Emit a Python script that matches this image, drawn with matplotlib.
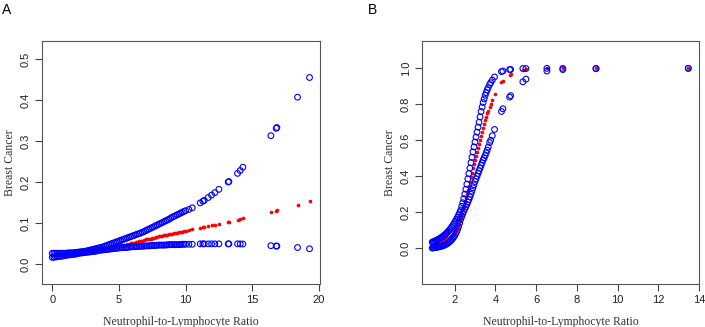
import matplotlib
matplotlib.use("Agg")
import matplotlib.pyplot as plt

# ---- panel A: NLR vs breast cancer (fit + CI) ----
nlr_a = [0, .25, .5, .75, 1, 1.25, 1.5, 1.75, 2, 2.25, 2.5, 2.75, 3, 3.25, 3.5,
         3.75, 4, 4.25, 4.5, 4.75, 5, 5.25, 5.5, 5.75, 6, 6.25, 6.5, 6.75, 7,
         7.25, 7.5, 7.75, 8, 8.25, 8.5, 8.75, 9, 9.25, 9.5, 9.75, 10, 10.25, 10.5,
         11.1, 11.3, 11.4, 11.7, 11.95, 12.2, 12.5,
         13.2, 13.25, 13.9, 14.1, 14.3, 16.4, 16.8, 16.85, 18.4, 19.3]
upper_a = [.027, .027, .027, .027, .027, .028, .028, .029, .030, .031, .032, .034, .036, .038, .040,
           .042, .045, .048, .051, .054, .057, .060, .063, .066, .069, .072, .075, .078, .082,
           .086, .090, .094, .098, .102, .106, .110, .115, .119, .123, .127, .131, .134, .138,
           .150, .154, .156, .163, .169, .175, .183,
           .201, .202, .222, .229, .237, .314, .332, .334, .408, .456]
fit_a = [.022, .023, .023, .024, .025, .025, .026, .027, .028, .029, .030, .032, .033, .034, .036,
         .037, .039, .040, .042, .043, .045, .047, .048, .050, .052, .054, .056, .058, .061,
         .062, .064, .066, .068, .070, .071, .073, .075, .077, .078, .080, .082, .084, .086,
         .089, .090, .091, .093, .095, .096, .098,
         .103, .104, .109, .110, .112, .128, .131, .132, .146, .154]
lower_a = [.017, .018, .019, .020, .022, .023, .024, .025, .027, .028, .029, .030, .031, .032, .034,
           .035, .036, .037, .038, .039, .040, .041, .041, .042, .043, .043, .044, .044, .045,
           .045, .046, .046, .047, .047, .047, .048, .048, .048, .048, .049, .049, .049, .049,
           .050, .050, .050, .050, .050, .050, .050,
           .050, .050, .050, .0498, .0495, .0455, .0447, .0445, .041, .038]
# extra patients in the dense part (NLR < 10)
nlr_a2 = [.125, .375, .625, .875, 1.125, 1.375, 1.625, 1.875, 2.125, 2.375,
          2.625, 2.875, 3.125, 3.375, 3.625, 3.875, 4.125, 4.375, 4.625, 4.875,
          5.125, 5.375, 5.625, 5.875, 6.125, 6.375, 6.625, 6.875, 7.125, 7.375,
          7.625, 7.875, 8.125, 8.375, 8.625, 8.875, 9.125, 9.375, 9.625, 9.875]
upper_a2 = [.027, .027, .027, .027, .0275, .028, .0285, .0295, .0305, .0315,
            .033, .035, .037, .039, .041, .0435, .0465, .0495, .0525, .0555,
            .0585, .0615, .0645, .0675, .0705, .0735, .0765, .080, .084, .088,
            .092, .096, .100, .104, .108, .1125, .117, .121, .125, .129]
fit_a2 = [.022, .023, .0235, .0245, .025, .0255, .0265, .0275, .0285, .0295,
          .031, .0325, .0335, .035, .0365, .038, .0395, .041, .0425, .044,
          .046, .0475, .049, .051, .053, .055, .057, .0595, .0615, .063,
          .065, .067, .069, .0705, .072, .074, .076, .0775, .079, .081]
lower_a2 = [.0175, .0185, .0195, .021, .0225, .0235, .0245, .026, .0275, .0285,
            .0295, .0305, .0315, .033, .0345, .0355, .0365, .0375, .0385, .0395,
            .0405, .041, .0415, .0425, .043, .0435, .044, .0445, .045, .0455,
            .046, .0465, .047, .047, .0475, .048, .048, .048, .0485, .049]

# ---- panel B ----
nlr_b = [0.9, 1.0, 1.1, 1.2, 1.3, 1.4, 1.5, 1.6, 1.7, 1.8, 1.9, 2.0, 2.1, 2.2, 2.3,
         2.35, 2.4, 2.45, 2.5, 2.55, 2.6, 2.65, 2.7, 2.75, 2.8, 2.85, 2.9, 2.95, 3.0,
         3.05, 3.1, 3.15, 3.2, 3.25, 3.3, 3.35, 3.4, 3.45, 3.5, 3.55, 3.6, 3.65, 3.72,
         3.77, 3.85, 3.96, 4.3, 4.37, 4.7, 4.75, 5.35, 5.5, 6.53, 7.31, 8.94, 13.47]
upper_b = [.033, .037, .042, .048, .055, .063, .072, .082, .094, .108, .124, .142, .162, .185, .212,
           .232, .252, .275, .300, .327, .355, .385, .415, .445, .475, .505, .535, .563, .590,
           .618, .645, .673, .700, .730, .760, .785, .810, .830, .850, .865, .880, .893, .910,
           .920, .935, .952, .982, .985, .993, .994, .999, .999, 1.0, 1.0, 1.0, 1.0]
fit_b = [.016, .019, .022, .026, .030, .035, .041, .048, .056, .066, .078, .092, .110, .135, .170,
         .192, .213, .234, .255, .277, .300, .322, .345, .370, .395, .420, .445, .468, .490,
         .512, .535, .558, .580, .602, .625, .648, .670, .690, .710, .730, .750, .765, .787,
         .800, .825, .857, .925, .932, .965, .968, .993, .995, .9995, 1.0, 1.0, 1.0]
lower_b = [.000, .002, .004, .006, .009, .012, .016, .022, .030, .040, .052, .068, .090, .120, .160,
           .175, .190, .205, .218, .230, .243, .256, .270, .285, .300, .317, .335, .352, .370,
           .385, .400, .415, .430, .445, .460, .475, .490, .502, .515, .530, .545, .562, .587,
           .600, .625, .660, .760, .775, .840, .848, .925, .940, .985, .993, .998, 1.0]
nlr_b2 = [0.95, 1.05, 1.15, 1.25, 1.35, 1.45, 1.55, 1.65, 1.75, 1.85, 1.95, 2.05, 2.15, 2.25]
upper_b2 = [.035, .0395, .045, .0515, .059, .0675, .077, .088, .101, .116, .133, .152, .173, .198]
fit_b2 = [.0175, .0205, .024, .028, .0325, .038, .0445, .052, .061, .072, .085, .101, .122, .152]
lower_b2 = [.001, .003, .005, .0075, .0105, .014, .019, .026, .035, .046, .060, .079, .105, .140]

serif = "Liberation Serif"
sans = "Liberation Sans"

fig = plt.figure(figsize=(7.05, 3.27), dpi=100)


def panel(rect, x, up, fit, lo, xlim, ylim, xticks, yticks, letter, lx):
    ax = fig.add_axes(rect)
    ax.scatter(x, fit, s=7, color="red", linewidths=0, zorder=2)
    ax.scatter(x, up, s=17, facecolors="none", edgecolors="blue", linewidths=0.8, zorder=3)
    ax.scatter(x, lo, s=17, facecolors="none", edgecolors="blue", linewidths=0.8, zorder=3)
    ax.set_xlim(*xlim)
    ax.set_ylim(*ylim)
    ax.set_xticks(xticks)
    ax.set_yticks(yticks)
    ax.set_yticklabels(["%.1f" % v for v in yticks])
    ax.tick_params(length=5, width=0.8, color="#444444", labelsize=8, pad=3,
                   labelcolor="#222222")
    for lab in ax.get_xticklabels() + ax.get_yticklabels():
        lab.set_family(sans)
    for lab in ax.get_yticklabels():
        lab.set_rotation(90)
        lab.set_va("center")
    for sp in ax.spines.values():
        sp.set_color("#555555")
        sp.set_linewidth(0.8)
    ax.set_xlabel("Neutrophil-to-Lymphocyte Ratio", family=serif, fontsize=8.5, color="#333333")
    ax.set_ylabel("Breast Cancer", family=serif, fontsize=8.5, color="#333333")
    ax.xaxis.set_label_coords(0.5, -0.13)
    ax.yaxis.set_label_coords(-0.095, 0.5)
    fig.text(lx, 0.99, letter, family=sans, fontsize=10, va="top", ha="left")
    return ax


panel([0.0596, 0.1315, 0.394, 0.743], nlr_a + nlr_a2, upper_a + upper_a2,
      fit_a + fit_a2, lower_a + lower_a2,
      (-0.77, 20.07), (-0.048, 0.545), [0, 5, 10, 15, 20],
      [0.0, 0.1, 0.2, 0.3, 0.4, 0.5], "A", 0.003)
panel([0.5986, 0.1315, 0.393, 0.743], nlr_b + nlr_b2, upper_b + upper_b2,
      fit_b + fit_b2, lower_b + lower_b2,
      (0.4, 14.0), (-0.2, 1.152), [2, 4, 6, 8, 10, 12, 14],
      [0.0, 0.2, 0.4, 0.6, 0.8, 1.0], "B", 0.522)

fig.savefig("out.png", dpi=100)
